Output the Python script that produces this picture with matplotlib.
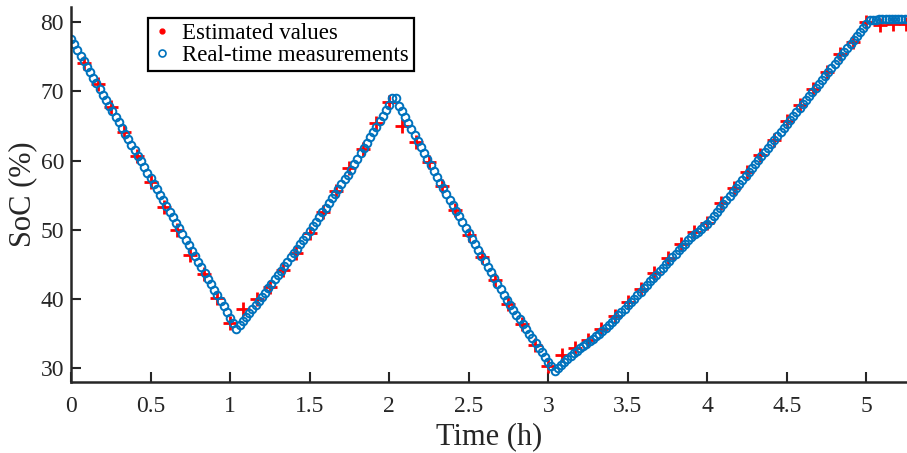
import numpy as np
import matplotlib
matplotlib.use('Agg')
import matplotlib.pyplot as plt
from matplotlib.lines import Line2D

plt.rcParams['font.family'] = ['Liberation Serif', 'DejaVu Serif']

# real-time measurements, one sample every 0.02 h
meas_step = 0.02
meas_soc = [
    77.6, 76.79, 75.99, 75.18, 74.38, 73.57, 72.77, 71.96, 71.15, 70.35,
    69.54, 68.74, 67.93, 67.12, 66.32, 65.51, 64.71, 63.90, 63.10, 62.29,
    61.48, 60.68, 59.87, 59.07, 58.26, 57.45, 56.65, 55.84, 55.04, 54.23,
    53.43, 52.62, 51.81, 51.01, 50.20, 49.40, 48.59, 47.78, 46.98, 46.17,
    45.37, 44.56, 43.76, 42.95, 42.14, 41.34, 40.53, 39.73, 38.92, 38.11,
    37.31, 36.50, 35.70, 36.28, 36.85, 37.43, 38.00, 38.58, 39.15, 39.73,
    40.30, 40.93, 41.57, 42.20, 42.83, 43.47, 44.10, 44.73, 45.37, 46.00,
    46.63, 47.27, 47.90, 48.53, 49.17, 49.80, 50.48, 51.16, 51.84, 52.52,
    53.20, 53.88, 54.56, 55.24, 55.92, 56.60, 57.28, 57.96, 58.69, 59.47,
    60.25, 61.03, 61.81, 62.59, 63.37, 64.14, 64.92, 65.70, 66.48, 67.26,
    68.03, 69.00, 69.05, 67.94, 67.10, 66.26, 65.42, 64.57, 63.71, 62.85,
    61.99, 61.13, 60.27, 59.41, 58.55, 57.69, 56.83, 55.99, 55.18, 54.37,
    53.56, 52.75, 51.94, 51.13, 50.32, 49.51, 48.70, 47.89, 47.08, 46.27,
    45.46, 44.65, 43.84, 43.03, 42.22, 41.42, 40.61, 39.80, 39.06, 38.39,
    37.71, 37.04, 36.36, 35.68, 35.01, 34.33, 33.66, 32.98, 32.30, 31.63,
    30.95, 30.28, 29.60,
    # 3.06 h onwards
    30.03, 30.47, 30.90, 31.33, 31.77, 32.20,
    32.53, 32.87, 33.20, 33.53,
    33.88, 34.24, 34.60, 34.96,
    35.36, 35.81, 36.26, 36.72,
    37.17, 37.65, 38.14, 38.62, 39.10,
    39.58, 40.06, 40.55, 41.03,
    41.53, 42.03, 42.53, 43.03,
    43.53, 44.04, 44.54, 45.05,
    45.55, 46.06, 46.57, 47.07,
    47.56, 48.01, 48.46, 48.92,
    49.36, 49.74, 50.13, 50.51, 50.90,
    51.48, 52.06, 52.63, 53.21,
    53.79, 54.36, 54.93, 55.50,
    56.06, 56.61, 57.17, 57.72,
    58.29, 58.87, 59.45, 60.03, 60.61, 61.19, 61.77, 62.35, 62.93, 63.51,
    64.09, 64.67, 65.24, 65.82, 66.40, 66.98, 67.56, 68.14, 68.72, 69.30,
    69.88, 70.46, 71.03, 71.61, 72.19, 72.77, 73.35, 73.93, 74.51, 75.09,
    75.67, 76.25, 76.82, 77.40, 77.98, 78.56, 79.14, 79.72, 80.30,
    # flat end
    80.35, 80.38, 80.40, 80.40, 80.40, 80.40, 80.40, 80.40, 80.40, 80.40,
    80.40, 80.40,
]

# estimated values, one every 5 min (1/12 h)
est_step = 1 / 12
est_soc = [
    74.1, 71.0, 67.8, 64.1, 60.6, 56.9, 53.3, 49.9, 46.3, 43.6,
    40.1, 36.5, 38.6, 40.0, 41.8, 44.2, 46.7, 49.6, 52.5, 55.6,
    58.9, 61.7, 65.4, 68.5, 65.0, 62.7, 59.8, 56.3, 52.9, 49.3,
    46.0, 42.8, 39.25, 36.4, 33.3, 30.3, 31.9, 32.85, 34.0, 35.6,
    37.5, 39.5, 41.5, 43.7, 45.85, 47.9, 49.7, 51.0, 53.8, 56.1,
    58.4, 60.8, 62.95, 65.7, 68.0, 70.4, 72.8, 75.4, 77.2, 80.0,
    79.6, 79.7, 79.8,
]

xticks = [0, 0.5, 1, 1.5, 2, 2.5, 3, 3.5, 4, 4.5, 5]
xticklabels = ['0', '0.5', '1', '1.5', '2', '2.5', '3', '3.5', '4', '4.5', '5']
yticks = [30, 40, 50, 60, 70, 80]

meas_t = np.arange(len(meas_soc)) * meas_step
est_t = np.arange(1, len(est_soc) + 1) * est_step

blue = '#0072BD'
dark = '#262626'

fig = plt.figure(figsize=(9.07, 4.53), dpi=100)
ax = fig.add_axes([0.0783, 0.1567, 0.9217, 0.828])

ax.plot(est_t, est_soc, linestyle='none', marker='+', color='red',
        markersize=10, markeredgewidth=2.0)
ax.plot(meas_t, meas_soc, linestyle='none', marker='o', markerfacecolor='none',
        markeredgecolor=blue, markersize=5.5, markeredgewidth=1.4)

ax.set_xlim(0, 5.255)
ax.set_ylim(28, 82.2)
ax.set_xticks(xticks)
ax.set_xticklabels(xticklabels)
ax.set_yticks(yticks)

for side in ['top', 'right']:
    ax.spines[side].set_visible(False)
for side in ['left', 'bottom']:
    ax.spines[side].set_linewidth(1.8)
    ax.spines[side].set_color(dark)
ax.tick_params(direction='in', length=7, width=1.5, color=dark,
               labelsize=17, labelcolor=dark)
ax.tick_params(axis='x', pad=10)
ax.tick_params(axis='y', pad=5)

ax.set_xlabel('Time (h)', fontsize=22, color=dark, labelpad=4)
ax.set_ylabel('SoC (%)', fontsize=22, color=dark, labelpad=2)

handles = [
    Line2D([], [], linestyle='none', marker='.', color='red', markersize=7),
    Line2D([], [], linestyle='none', marker='o', markerfacecolor='none',
           markeredgecolor=blue, markersize=5, markeredgewidth=1.2),
]
leg = ax.legend(handles, ['Estimated values', 'Real-time measurements'],
                loc='upper left', bbox_to_anchor=(0.092, 0.97), borderaxespad=0,
                fontsize=16.5, fancybox=False, framealpha=1, edgecolor='black',
                handlelength=0.8, handletextpad=0.5, borderpad=0.2,
                labelspacing=0.05)
leg.get_frame().set_linewidth(1.6)

fig.savefig('out.png', dpi=100)
